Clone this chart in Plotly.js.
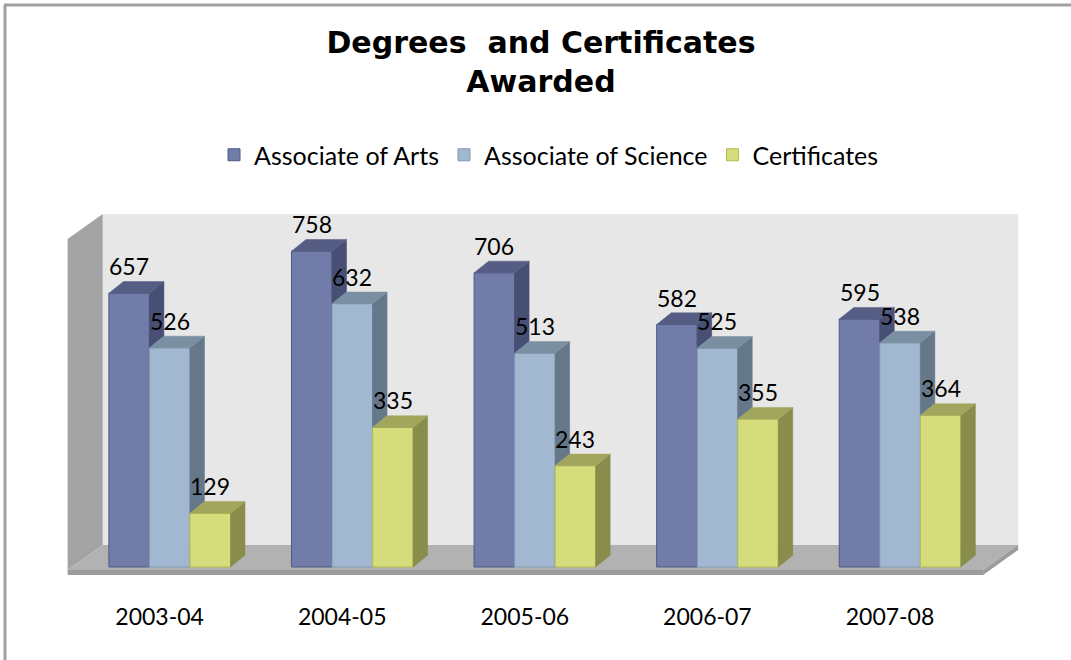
<!DOCTYPE html>
<html>
<head>
<meta charset="utf-8">
<script src="https://cdn.plot.ly/plotly-3.0.1.min.js"></script>
<style>
  html, body { margin: 0; padding: 0; background: #ffffff; }
  #chart { width: 1071px; height: 660px; }
</style>
</head>
<body>
<div id="chart"></div>
<script>
// ---------------- data ----------------
const categories = ['2003-04', '2004-05', '2005-06', '2006-07', '2007-08'];
const associateArts = [657, 758, 706, 582, 595];
const associateScience = [526, 632, 513, 525, 538];
const certificates = [129, 335, 243, 355, 364];
const seriesNames = ['Associate of Arts', 'Associate of Science', 'Certificates'];

// ---------------- styling ----------------
const seriesValues = [associateArts, associateScience, certificates];
const frontColors = ['#717CA8', '#A1B8D0', '#D5DC7C'];
const edgeColors  = ['#4E5886', '#8199B6', '#B3BB4E'];
const topColors   = ['#555D84', '#7B8FA2', '#A1A65C'];
const sideColors  = ['#484F75', '#65788A', '#888D4C'];

const W = 1071, H = 660;
const ML = 51, MR = 34, MT = 192, MB = 68;
const X0 = -0.65, X1 = 4.75;
const Y0 = -60, Y1 = 900;
const BARGAP = 0.334;
const BW = (1 - BARGAP) / 3;          // width of one bar in axis units
const DEPTH_X = 0.0795, DEPTH_Y = 28;  // bar depth projection (axis units)

// wall / floor box (axis units)
const BOX_L = -0.559, BOX_R = 4.455, BOX_B = -7, BOX_T = 787;
const BOX_DX = 0.192, BOX_DY = 60, FLOOR_T = 12;

const idx = categories.map((_, i) => i);

// front faces as real bars
const traces = [];
seriesValues.forEach((vals, j) => {
  traces.push({
    type: 'bar',
    name: seriesNames[j],
    x: idx,
    y: vals,
    marker: { color: frontColors[j], line: { color: edgeColors[j], width: 1 } },
    hoverinfo: 'x+y+name'
  });
});

// 3D top and side faces computed from the data
function center(i, j) { return i + (j - 1) * BW; }
seriesValues.forEach((vals, j) => {
  const topX = [], topY = [], sideX = [], sideY = [];
  vals.forEach((v, i) => {
    const xl = center(i, j) - BW / 2, xr = center(i, j) + BW / 2;
    topX.push(xl, xl + DEPTH_X, xr + DEPTH_X, xr, xl, null);
    topY.push(v, v + DEPTH_Y, v + DEPTH_Y, v, v, null);
    const next = j < seriesValues.length - 1 ? seriesValues[j + 1][i] : 0;
    const lo = Math.min(next, v);
    sideX.push(xr, xr, xr + DEPTH_X, xr + DEPTH_X, xr, null);
    sideY.push(lo, v, v + DEPTH_Y, lo + DEPTH_Y, lo, null);
  });
  traces.push({
    type: 'scatter', mode: 'lines', x: sideX, y: sideY, fill: 'toself',
    fillcolor: sideColors[j], line: { color: sideColors[j], width: 0.5 },
    showlegend: false, hoverinfo: 'skip'
  });
  traces.push({
    type: 'scatter', mode: 'lines', x: topX, y: topY, fill: 'toself',
    fillcolor: topColors[j], line: { color: topColors[j], width: 0.5 },
    showlegend: false, hoverinfo: 'skip'
  });
});

// value labels
const annotations = [];
seriesValues.forEach((vals, j) => {
  vals.forEach((v, i) => {
    annotations.push({
      x: center(i, j), y: v, xref: 'x', yref: 'y',
      text: String(v), showarrow: false,
      xanchor: 'center', yanchor: 'bottom', yshift: 11,
      font: { family: 'Lato, sans-serif', size: 23, color: '#000000' }
    });
  });
});

// walls and floor
const shapes = [
  { type: 'rect', layer: 'below', xref: 'x', yref: 'y',
    x0: BOX_L + BOX_DX, x1: BOX_R + BOX_DX, y0: BOX_B + BOX_DY, y1: BOX_T + BOX_DY,
    fillcolor: '#E7E7E7', line: { width: 0 } },
  { type: 'path', layer: 'below', xref: 'x', yref: 'y',
    path: `M${BOX_L},${BOX_B} L${BOX_L},${BOX_T} L${BOX_L + BOX_DX},${BOX_T + BOX_DY} L${BOX_L + BOX_DX},${BOX_B + BOX_DY} Z`,
    fillcolor: '#A3A3A3', line: { width: 0 } },
  { type: 'path', layer: 'below', xref: 'x', yref: 'y',
    path: `M${BOX_L},${BOX_B} L${BOX_L + BOX_DX},${BOX_B + BOX_DY} L${BOX_R + BOX_DX},${BOX_B + BOX_DY} L${BOX_R},${BOX_B} Z`,
    fillcolor: '#B2B2B2', line: { width: 0 } },
  { type: 'path', layer: 'below', xref: 'x', yref: 'y',
    path: `M${BOX_L},${BOX_B} L${BOX_R},${BOX_B} L${BOX_R},${BOX_B - FLOOR_T} L${BOX_L},${BOX_B - FLOOR_T} Z`,
    fillcolor: '#9C9C9C', line: { width: 0 } },
  { type: 'path', layer: 'below', xref: 'x', yref: 'y',
    path: `M${BOX_R},${BOX_B} L${BOX_R + BOX_DX},${BOX_B + BOX_DY} L${BOX_R + BOX_DX},${BOX_B + BOX_DY - FLOOR_T} L${BOX_R},${BOX_B - FLOOR_T} Z`,
    fillcolor: '#9C9C9C', line: { width: 0 } },
  // outer frame (left and top edges)
  { type: 'line', xref: 'paper', yref: 'paper', layer: 'above',
    x0: (5 - ML) / (W - ML - MR), x1: (5 - ML) / (W - ML - MR),
    y0: (H - MB - 5) / (H - MT - MB), y1: (H - MB - H) / (H - MT - MB),
    line: { color: '#A0A0A0', width: 3 } },
  { type: 'line', xref: 'paper', yref: 'paper', layer: 'above',
    x0: (4 - ML) / (W - ML - MR), x1: (W - ML) / (W - ML - MR),
    y0: (H - MB - 5) / (H - MT - MB), y1: (H - MB - 5) / (H - MT - MB),
    line: { color: '#A0A0A0', width: 3 } }
];

const layout = {
  width: W, height: H,
  margin: { l: ML, r: MR, t: MT, b: MB, pad: 0 },
  paper_bgcolor: '#ffffff',
  plot_bgcolor: 'rgba(0,0,0,0)',
  barmode: 'group',
  bargap: BARGAP,
  bargroupgap: 0,
  font: { family: 'Lato, sans-serif', color: '#000000' },
  title: {
    text: 'Degrees\u00A0 and Certificates<br>Awarded',
    font: { family: '"DejaVu Sans", sans-serif', size: 30, weight: 700, color: '#000000' },
    x: 541 / W, xanchor: 'center',
    y: 1 - 53 / H, yanchor: 'top', yref: 'container'
  },
  showlegend: true,
  legend: {
    orientation: 'h',
    x: (549 - ML) / (W - ML - MR), xanchor: 'center',
    y: (H - MB - 155) / (H - MT - MB), yanchor: 'middle',
    font: { family: 'Lato, sans-serif', size: 25, color: '#000000' },
    bgcolor: 'rgba(0,0,0,0)',
    traceorder: 'normal'
  },
  xaxis: {
    type: 'linear',
    range: [X0, X1],
    tickvals: idx.map(i => i - 0.055),
    ticktext: categories,
    ticks: '',
    showgrid: false, zeroline: false, showline: false,
    tickfont: { family: 'Lato, sans-serif', size: 23, color: '#000000' },
    ticklabelstandoff: 9,
    fixedrange: true
  },
  yaxis: {
    range: [Y0, Y1],
    showgrid: false, zeroline: false, showline: false,
    showticklabels: false, ticks: '',
    fixedrange: true
  },
  shapes: shapes,
  annotations: annotations
};

Plotly.newPlot('chart', traces, layout, { displayModeBar: false, staticPlot: true });
</script>
</body>
</html>
